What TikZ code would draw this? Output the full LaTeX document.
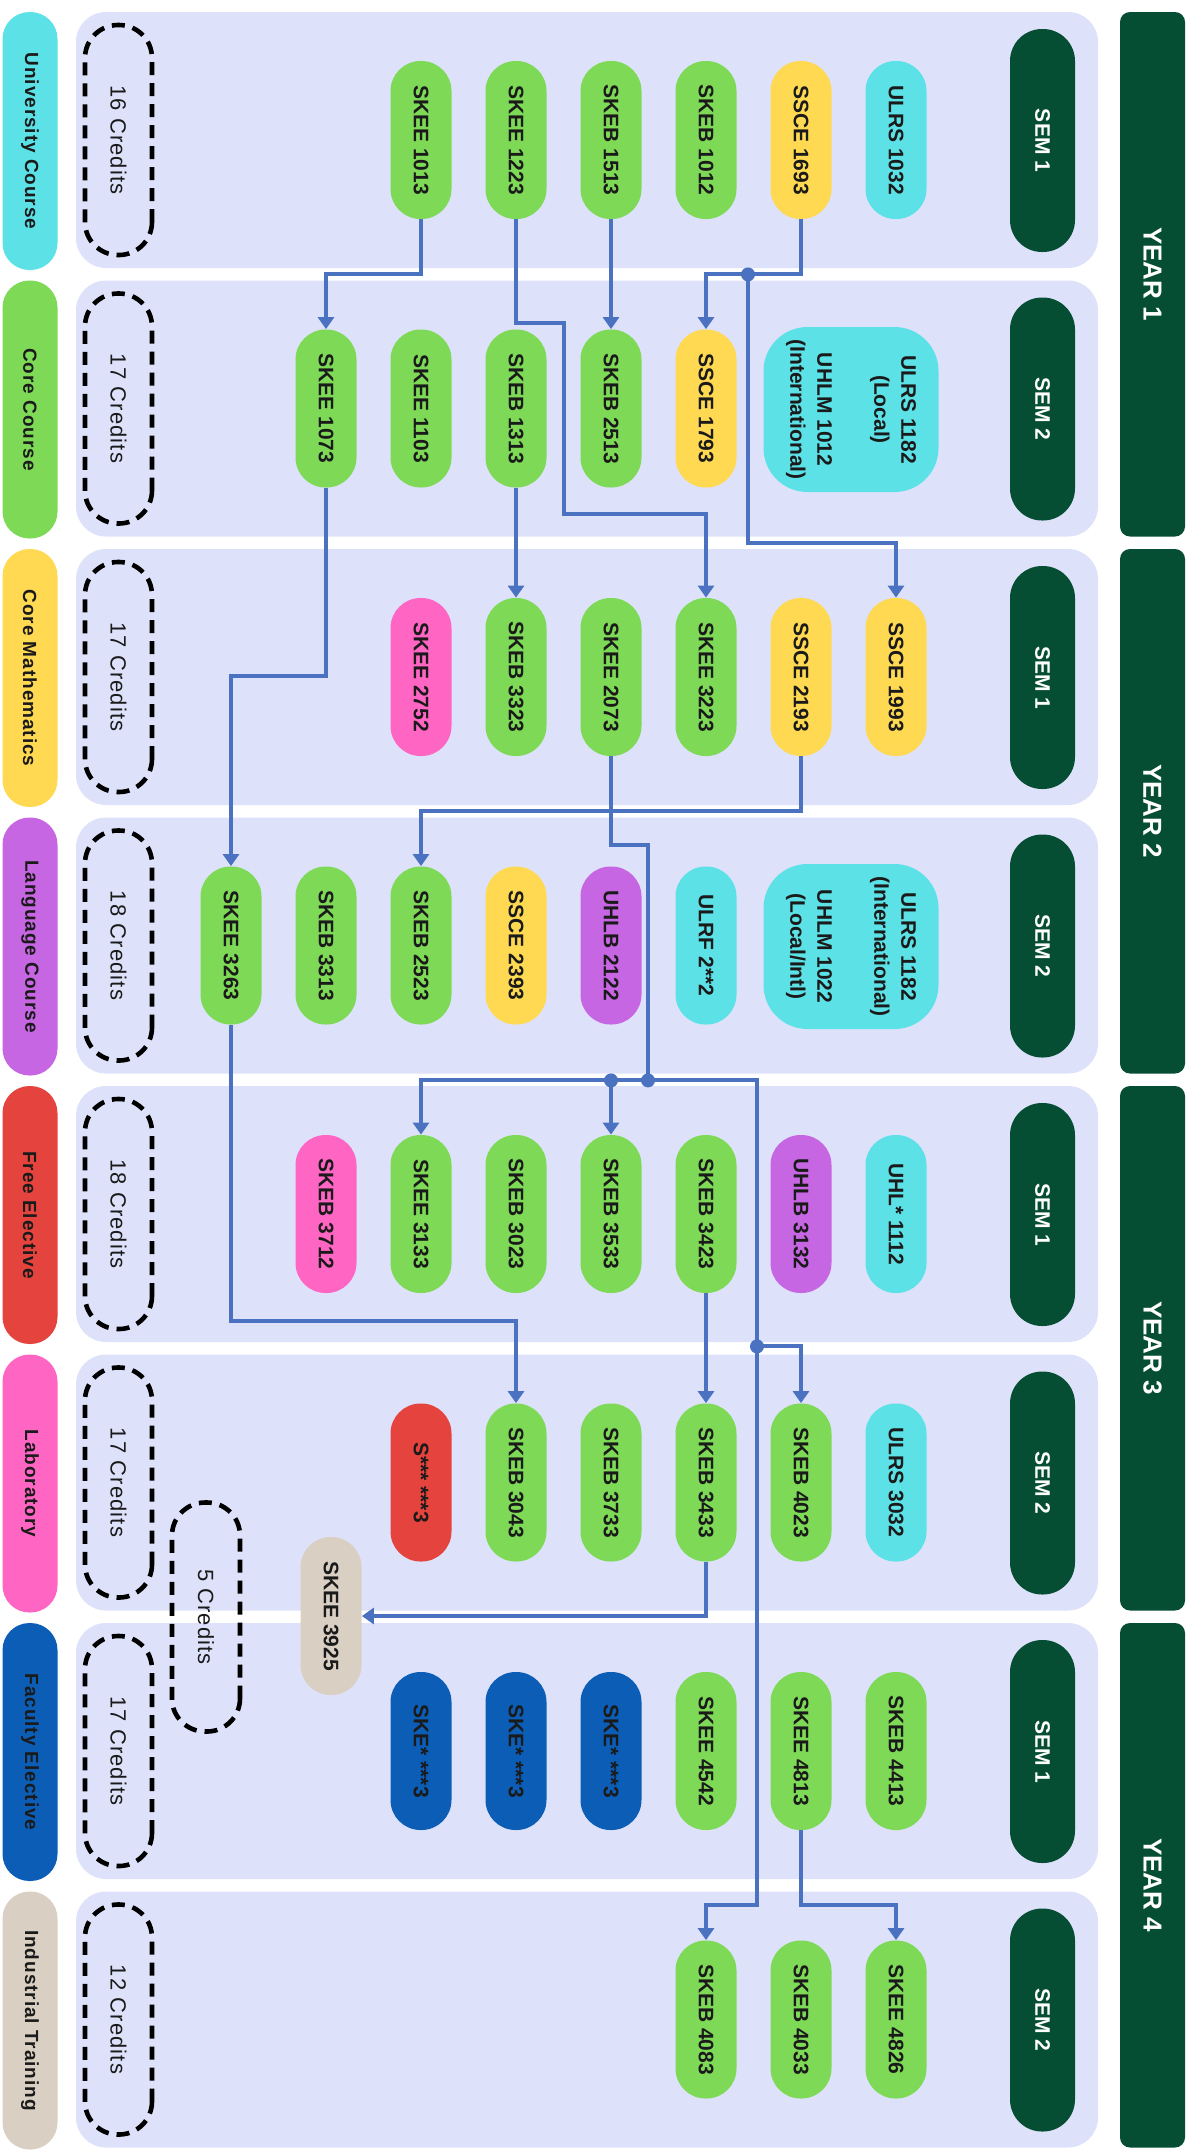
\documentclass[tikz,border=0pt]{standalone}
\usepackage{fontspec}
\setmainfont{Liberation Sans}
\newfontfamily\keyfont[LetterSpace=5]{Liberation Sans}
\newfontfamily\creditfont[LetterSpace=5]{Liberation Sans}
\usepackage{tikz}
\usetikzlibrary{arrows.meta}

\definecolor{darkgreen}{HTML}{064E33}
\definecolor{panelbg}{HTML}{DDE2FA}
\definecolor{unicol}{HTML}{5CE1E6}
\definecolor{corecol}{HTML}{7ED957}
\definecolor{mathcol}{HTML}{FFD952}
\definecolor{langcol}{HTML}{C766E2}
\definecolor{freecol}{HTML}{E4443D}
\definecolor{labcol}{HTML}{FF66C4}
\definecolor{faccol}{HTML}{0C5DB6}
\definecolor{indcol}{HTML}{D9D0C3}
\definecolor{linkcol}{HTML}{4A72C0}
\definecolor{ink}{HTML}{1A1A1A}

\begin{document}
\begin{tikzpicture}[x=0.5pt, y=-0.5pt,
    course/.style={rotate=-90, rounded corners=15pt, minimum width=79pt, minimum height=30.5pt, inner sep=0pt, text=ink, font=\bfseries\fontsize{10.5}{12}\selectfont},
    uni/.style={course, fill=unicol},
    core/.style={course, fill=corecol},
    math/.style={course, fill=mathcol},
    lang/.style={course, fill=langcol},
    free/.style={course, fill=freecol},
    lab/.style={course, fill=labcol},
    fac/.style={course, fill=faccol},
    ind/.style={course, fill=indcol},
    bigcourse/.style={uni, rounded corners=22pt, minimum width=82.5pt, minimum height=87.5pt, align=center, font=\bfseries\fontsize{10.5}{13.5}\selectfont},
    sempill/.style={rotate=-90, fill=darkgreen, rounded corners=16pt, minimum width=111.5pt, minimum height=32.5pt, inner sep=0pt, text=white, font=\bfseries\fontsize{10.5}{12}\selectfont},
    yearbar/.style={rotate=-90, fill=darkgreen, rounded corners=5pt, minimum width=262.25pt, minimum height=32.5pt, inner sep=0pt, text=white, font=\bfseries\fontsize{13}{15}\selectfont},
    keypill/.style={rotate=-90, rounded corners=13.5pt, minimum width=129pt, minimum height=27.5pt, inner sep=0pt, text=ink, font=\keyfont\bfseries\fontsize{9.5}{11}\selectfont},
    credits/.style={rotate=-90, draw=black, line width=2.3pt, dash pattern=on 6.5pt off 4pt, rounded corners=16.5pt, minimum width=115pt, minimum height=33.5pt, inner sep=0pt, text=ink, font=\creditfont\fontsize{11}{13}\selectfont},
    flow/.style={draw=linkcol, line width=2pt, -{Triangle[length=6pt, width=8pt]}},
    wire/.style={draw=linkcol, line width=2pt},
    junction/.style={fill=linkcol}]

    \path[use as bounding box, fill=white] (0,0) rectangle (1195,2154);

    % semester panels
    \foreach \t in {12,280.5,549,817.5,1086,1354.5,1623,1891.5}
        \fill[panelbg, rounded corners=15pt] (76,\t) rectangle (1098,\t+256);

    % years and semesters
    \foreach \t/\y in {274.25/1, 811.25/2, 1348.25/3, 1885.25/4}
        \node[yearbar] (year\y) at (1152.5,\t) {YEAR \y};
    \foreach \t/\s [count=\i] in {12/1, 280.5/2, 549/1, 817.5/2, 1086/1, 1354.5/2, 1623/1, 1891.5/2}
        \node[sempill] (sem\i) at (1042.5,\t+128.5) {SEM \s};

    % legend
    \foreach \t/\c/\n [count=\i] in {12/unicol/University Course, 280.5/corecol/Core Course, 549/mathcol/Core Mathematics, 817.5/langcol/Language Course, 1086/freecol/Free Elective, 1354.5/labcol/Laboratory, 1623/faccol/Faculty Elective, 1891.5/indcol/Industrial Training}
        \node[keypill, fill=\c] (key\i) at (30,\t+129) {\n};

    % credits
    \foreach \t/\n [count=\i] in {12/16, 280.5/17, 549/17, 817.5/18, 1086/18, 1354.5/17, 1623/17, 1891.5/12}
        \node[credits] (cred\i) at (118.5,\t+128) {\n\ Credits};
    \node[credits, minimum width=114.5pt, minimum height=34pt] (credextra) at (206,1617) {5 Credits};

    % year 1 sem 1
    \node[uni] (ulrs1032) at (896,140) {ULRS 1032};
    \node[math] (ssce1693) at (801,140) {SSCE 1693};
    \node[core] (skeb1012) at (706,140) {SKEB 1012};
    \node[core] (skeb1513) at (611,140) {SKEB 1513};
    \node[core] (skee1223) at (516,140) {SKEE 1223};
    \node[core] (skee1013) at (421,140) {SKEE 1013};

    % year 1 sem 2
    \node[bigcourse] (ulrs1182a) at (851,409.5) {ULRS 1182\\(Local)\\[15pt]UHLM 1012\\(International)};
    \node[math] (ssce1793) at (706,408.5) {SSCE 1793};
    \node[core] (skeb2513) at (611,408.5) {SKEB 2513};
    \node[core] (skeb1313) at (516,408.5) {SKEB 1313};
    \node[core] (skee1103) at (421,408.5) {SKEE 1103};
    \node[core] (skee1073) at (326,408.5) {SKEE 1073};

    % year 2 sem 1
    \node[math] (ssce1993) at (896,677) {SSCE 1993};
    \node[math] (ssce2193) at (801,677) {SSCE 2193};
    \node[core] (skee3223) at (706,677) {SKEE 3223};
    \node[core] (skee2073) at (611,677) {SKEE 2073};
    \node[core] (skeb3323) at (516,677) {SKEB 3323};
    \node[lab] (skee2752) at (421,677) {SKEE 2752};

    % year 2 sem 2
    \node[bigcourse] (ulrs1182b) at (851,946.5) {ULRS 1182\\(International)\\[15pt]UHLM 1022\\(Local/Intl)};
    \node[uni] (ulrf2x2) at (706,945.5) {ULRF 2**2};
    \node[lang] (uhlb2122) at (611,945.5) {UHLB 2122};
    \node[math] (ssce2393) at (516,945.5) {SSCE 2393};
    \node[core] (skeb2523) at (421,945.5) {SKEB 2523};
    \node[core] (skeb3313) at (326,945.5) {SKEB 3313};
    \node[core] (skee3263) at (231,945.5) {SKEE 3263};

    % year 3 sem 1
    \node[uni] (uhl1112) at (896,1214) {UHL* 1112};
    \node[lang] (uhlb3132) at (801,1214) {UHLB 3132};
    \node[core] (skeb3423) at (706,1214) {SKEB 3423};
    \node[core] (skeb3533) at (611,1214) {SKEB 3533};
    \node[core] (skeb3023) at (516,1214) {SKEB 3023};
    \node[core] (skee3133) at (421,1214) {SKEE 3133};
    \node[lab] (skeb3712) at (326,1214) {SKEB 3712};

    % year 3 sem 2
    \node[uni] (ulrs3032) at (896,1482.5) {ULRS 3032};
    \node[core] (skeb4023) at (801,1482.5) {SKEB 4023};
    \node[core] (skeb3433) at (706,1482.5) {SKEB 3433};
    \node[core] (skeb3733) at (611,1482.5) {SKEB 3733};
    \node[core] (skeb3043) at (516,1482.5) {SKEB 3043};
    \node[free] (freeel) at (421,1482.5) {S*** ***3};
    \node[ind] (skee3925) at (331,1616) {SKEE 3925};

    % year 4 sem 1
    \node[core] (skeb4413) at (896,1751) {SKEB 4413};
    \node[core] (skee4813) at (801,1751) {SKEE 4813};
    \node[core] (skee4542) at (706,1751) {SKEE 4542};
    \node[fac] (facela) at (611,1751) {SKE* ***3};
    \node[fac] (faceleb) at (516,1751) {SKE* ***3};
    \node[fac] (facelec) at (421,1751) {SKE* ***3};

    % year 4 sem 2
    \node[core] (skee4826) at (896,2019.5) {SKEE 4826};
    \node[core] (skeb4033) at (801,2019.5) {SKEB 4033};
    \node[core] (skeb4083) at (706,2019.5) {SKEB 4083};

    % prerequisites
    \draw[flow] (skee1013.east) -- ++(0,55) -| (skee1073.west);
    \draw[flow] (skee1223.east) -- ++(0,104) -- ++(48,0) -- ++(0,191) -| (skee3223.west);
    \draw[flow] (skeb1513) -- (skeb2513);
    \draw[flow] (ssce1693.east) -- ++(0,55) -| (ssce1793.west);
    \path (ssce1693.east) ++(-53,55) coordinate (j1);
    \draw[flow] (j1) -- ++(0,269) -| (ssce1993.west);
    \draw[flow] (skeb1313) -- (skeb3323);
    \draw[flow] (skee1073.east) -- ++(0,188) -| (skee3263.west);
    \draw[flow] (ssce2193.east) -- ++(0,55) -| (skeb2523.west);
    \draw[wire] (skee2073.east) -- ++(0,89) -- ++(37,0) -- ++(0,235) coordinate (j2);
    \draw[flow] (j2) -| (skee3133.west);
    \coordinate (j3) at (skeb3533.west |- j2);
    \draw[flow] (j3) -- (skeb3533.west);
    \draw[wire] (j2) -- ++(109,0) -- ++(0,266) coordinate (j4);
    \draw[flow] (j4) -| (skeb4023.west);
    \draw[flow] (j4) -- ++(0,559) -| (skeb4083.west);
    \draw[flow] (skee3263.east) -- ++(0,296) -| (skeb3043.west);
    \draw[flow] (skeb3423) -- (skeb3433);
    \draw[flow] (skeb3433.east) |- (skee3925.north);
    \draw[flow] (skee4813.east) -- ++(0,75) -| (skee4826.west);
    \foreach \j in {j1,j2,j3,j4}
        \fill[junction] (\j) circle (3.5pt);
\end{tikzpicture}
\end{document}
